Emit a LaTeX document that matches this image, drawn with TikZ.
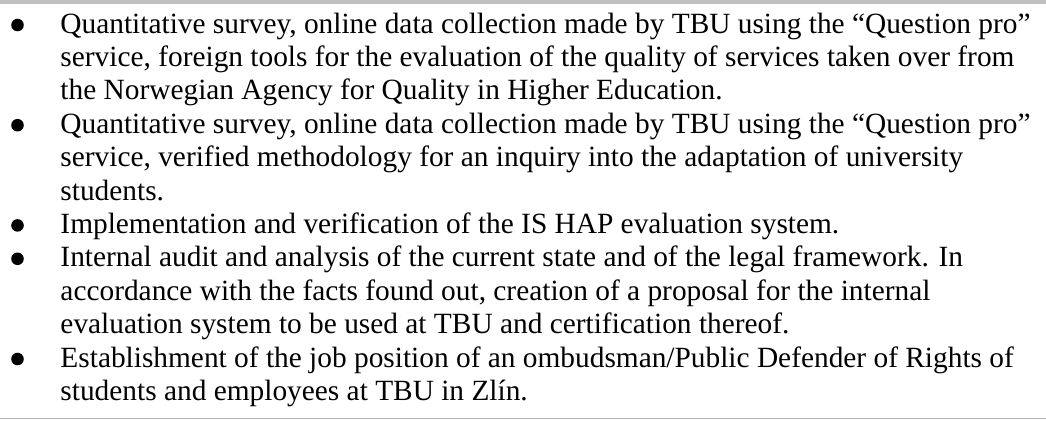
\documentclass[tikz,border=0pt]{standalone}
\usepackage{fontspec}
\setmainfont{Liberation Serif}
\begin{document}
\begin{tikzpicture}[x=0.4138pt,y=-0.4138pt,
  txt/.style={anchor=base west,inner sep=0pt,font=\fontsize{12.15}{13.8}\selectfont},
  bul/.style={circle,fill=black,inner sep=0pt,minimum size=5.2pt},
  rulethick/.style={draw=black!25,line width=1.5pt},
  rulethin/.style={draw=black!30,line width=0.5pt}]
\useasboundingbox (0,0) rectangle (1046,420);
\draw[rulethick] (0,1.7) -- (1046,1.7);
\draw[rulethin] (0,418.8) -- (1046,418.8);
\foreach \i/\t in {
 1/{Quantitative survey, online data collection made by TBU using the “Question pro”},
 2/{service, foreign tools for the evaluation of the quality of services taken over from},
 3/{the Norwegian Agency for Quality in Higher Education.},
 4/{Quantitative survey, online data collection made by TBU using the “Question pro”},
 5/{service, verified methodology for an inquiry into the adaptation of university},
 6/{students.},
 7/{Implementation and verification of the IS HAP evaluation system.},
 8/{Internal audit and analysis of the current state and of the legal framework. In},
 9/{accordance with the facts found out, creation of a proposal for the internal},
 10/{evaluation system to be used at TBU and certification thereof.},
 11/{Establishment of the job position of an ombudsman/Public Defender of Rights of},
 12/{students and employees at TBU in Zlín.}}
 { \node[txt] (l\i) at (60,{33+(\i-1)*33.4}) {\t}; }
\foreach \i in {1,4,7,8,11}
 { \node[bul] (b\i) at (17.5,{25+(\i-1)*33.4}) {}; }
\end{tikzpicture}
\end{document}
